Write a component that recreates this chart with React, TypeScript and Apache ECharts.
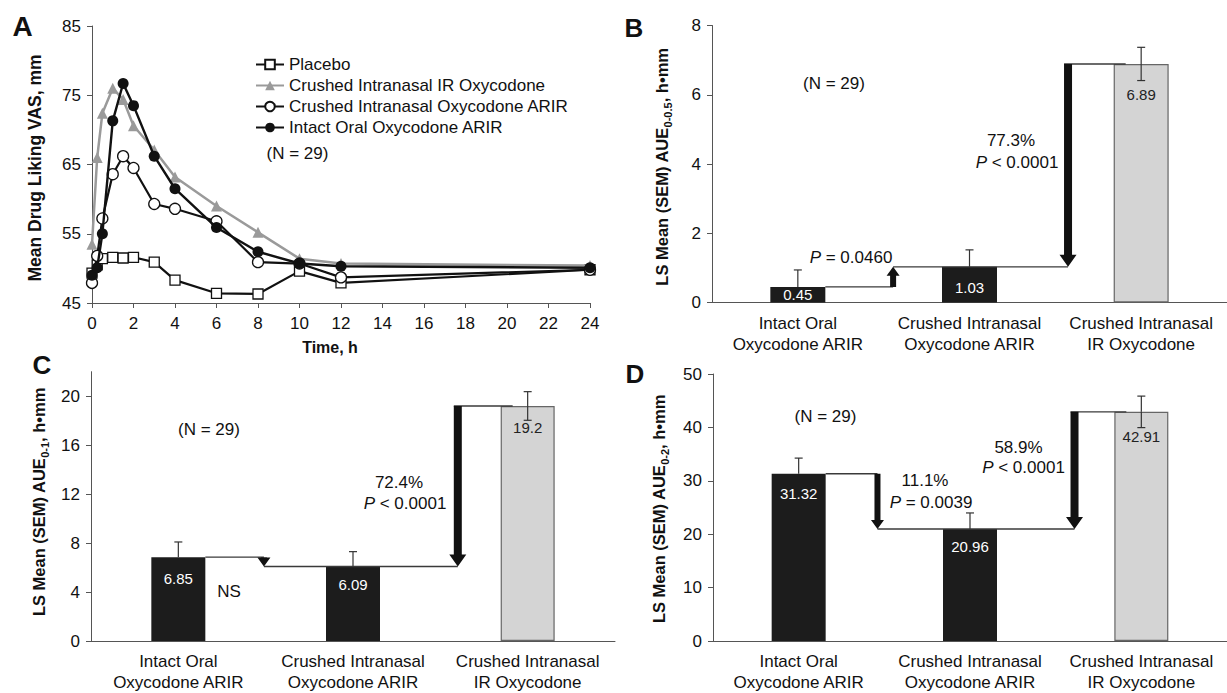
import React, { useEffect, useRef } from 'react';
import * as echarts from 'echarts';

// ---------- data ----------
const times = [0, 0.25, 0.5, 1, 1.5, 2, 3, 4, 6, 8, 10, 12, 24];
const placebo = [49.3, 50.5, 51.4, 51.6, 51.5, 51.6, 50.9, 48.3, 46.4, 46.3, 49.6, 47.9, 49.8];
const irOxycodone = [53.5, 66.0, 72.4, 76.0, 74.4, 70.6, 67.1, 63.2, 59.0, 55.2, 51.4, 50.7, 50.4];
const arirCrushed = [47.9, 51.8, 57.2, 63.6, 66.2, 64.5, 59.3, 58.6, 56.8, 50.9, 50.7, 48.7, 49.8];
const arirIntact = [49.0, 50.1, 55.0, 71.3, 76.7, 73.5, 66.2, 61.5, 55.9, 52.4, 50.7, 50.3, 50.1];

const lineNames = [
  'Placebo',
  'Crushed Intranasal IR Oxycodone',
  'Crushed Intranasal Oxycodone ARIR',
  'Intact Oral Oxycodone ARIR',
];

const categories = [
  'Intact Oral\nOxycodone ARIR',
  'Crushed Intranasal\nOxycodone ARIR',
  'Crushed Intranasal\nIR Oxycodone',
];
const aue05 = [0.45, 1.03, 6.89];
const aue05Sem = [0.49, 0.49, 0.48];
const aue1 = [6.85, 6.09, 19.2];
const aue1Sem = [1.24, 1.21, 1.17];
const aue2 = [31.32, 20.96, 42.91];
const aue2Sem = [2.93, 3.02, 2.95];

// ---------- styles ----------
const FONT = '"Liberation Sans", Arial, Helvetica, sans-serif';
const INK = '#111';
const AXIS = '#555';
const BAR_DARK = '#1c1c1c';
const BAR_LIGHT = '#d4d4d4';
const barColors = [BAR_DARK, BAR_DARK, BAR_LIGHT];

function arrow(x: number, yStart: number, yEnd: number, sw: number, hw: number, hl: number) {
  const dir = yEnd > yStart ? 1 : -1;
  const len = Math.abs(yEnd - yStart);
  const h = Math.min(hl, len);
  const base = yEnd - dir * h;
  return {
    type: 'polygon',
    shape: {
      points: [
        [x - sw / 2, yStart], [x + sw / 2, yStart], [x + sw / 2, base], [x + hw / 2, base],
        [x, yEnd], [x - hw / 2, base], [x - sw / 2, base],
      ],
    },
    style: { fill: INK },
  };
}

function connectorSeries(idx: number, vals: number[], off1: number, off2: number, bw: number) {
  return {
    type: 'custom',
    xAxisIndex: idx,
    yAxisIndex: idx,
    z: 4,
    silent: true,
    encode: { x: 0, y: 1 },
    data: [[0, vals[0]]],
    renderItem: (params: any, api: any) => {
      const p0 = api.coord([0, vals[0]]);
      const p1 = api.coord([1, vals[1]]);
      const p2 = api.coord([2, vals[2]]);
      const band = p1[0] - p0[0];
      const ax1 = p0[0] + off1 * band;
      const ax2 = p1[0] + off2 * band;
      const st = { stroke: '#3a3a3a', lineWidth: 1.4 };
      return {
        type: 'group',
        children: [
          { type: 'line', shape: { x1: p0[0] + bw / 2, y1: p0[1], x2: ax1, y2: p0[1] }, style: st },
          { type: 'line', shape: { x1: ax1, y1: p1[1], x2: ax2, y2: p1[1] }, style: st },
          { type: 'line', shape: { x1: ax2 - 4, y1: p2[1], x2: p2[0] - bw / 2 + 12, y2: p2[1] }, style: st },
          arrow(ax1, p0[1], p1[1], 6, 13, 9),
          arrow(ax2, p2[1], p1[1], 8, 17, 12),
        ],
      };
    },
  };
}

function errorSeries(idx: number, vals: number[], sems: number[]) {
  return {
    type: 'custom',
    xAxisIndex: idx,
    yAxisIndex: idx,
    z: 5,
    silent: true,
    encode: { x: 0, y: 1 },
    data: vals.map((v, i) => [i, v, sems[i], barColors[i] === BAR_LIGHT ? 1 : 0]),
    renderItem: (params: any, api: any) => {
      const i = api.value(0);
      const v = api.value(1);
      const s = api.value(2);
      const low = api.value(3);
      const top = api.coord([i, v + s]);
      const mid = api.coord([i, v]);
      const bot = api.coord([i, v - s]);
      const x = mid[0];
      const c = 4;
      const st = { stroke: '#333', lineWidth: 1.2 };
      const children: any[] = [
        { type: 'line', shape: { x1: x, y1: top[1], x2: x, y2: mid[1] }, style: st },
        { type: 'line', shape: { x1: x - c, y1: top[1], x2: x + c, y2: top[1] }, style: st },
      ];
      if (low) {
        children.push({ type: 'line', shape: { x1: x, y1: mid[1], x2: x, y2: bot[1] }, style: st });
        children.push({ type: 'line', shape: { x1: x - c, y1: bot[1], x2: x + c, y2: bot[1] }, style: st });
      }
      return { type: 'group', children };
    },
  };
}

function barSeries(idx: number, vals: number[], bw: number, dists: number[]) {
  return {
    type: 'bar',
    xAxisIndex: idx,
    yAxisIndex: idx,
    barWidth: bw,
    z: 2,
    silent: true,
    data: vals.map((v, i) => {
      const light = barColors[i] === BAR_LIGHT;
      return {
        value: v,
        itemStyle: {
          color: barColors[i],
          borderColor: light ? '#666' : barColors[i],
          borderWidth: light ? 1.2 : 0,
        },
        label: {
          show: true,
          position: 'insideTop',
          distance: dists[i],
          color: light ? '#222' : '#fff',
          fontSize: 15,
          fontFamily: FONT,
        },
      };
    }),
  };
}

function valueAxisY(idx: number, min: number, max: number, interval: number, custom?: number[]) {
  const ax: any = {
    type: 'value',
    gridIndex: idx,
    min,
    max,
    interval,
    axisLine: { show: true, lineStyle: { color: AXIS, width: 1 } },
    axisTick: { show: true, inside: false, length: 5, lineStyle: { color: AXIS } },
    axisLabel: { fontSize: 17, fontFamily: FONT, color: INK, margin: 11 },
    splitLine: { show: false },
  };
  if (custom) {
    ax.axisTick.customValues = custom;
    ax.axisLabel.customValues = custom;
  }
  return ax;
}

function catAxisX(idx: number) {
  return {
    type: 'category',
    gridIndex: idx,
    data: categories,
    axisLine: { show: true, lineStyle: { color: AXIS, width: 1 } },
    axisTick: { show: false },
    axisLabel: { fontSize: 17, fontFamily: FONT, color: INK, margin: 10, lineHeight: 21, interval: 0 },
    splitLine: { show: false },
  };
}

const richBase = {
  i: { fontStyle: 'italic', fontSize: 17, fontFamily: FONT, fill: INK },
};

function txt(x: number, y: number, text: string, extra: any = {}, rotation = 0) {
  return {
    type: 'text',
    x,
    y,
    rotation,
    silent: true,
    z: 10,
    style: {
      text,
      fontSize: 17,
      fontFamily: FONT,
      fill: INK,
      align: 'center',
      verticalAlign: 'middle',
      rich: richBase,
      ...extra,
    },
  };
}

function yTitle(x: number, y: number, sub: string) {
  const text = `{t|LS Mean (SEM) AUE}{s|${sub}}{t|, h•mm}`;
  return txt(
    x,
    y,
    text,
    {
      rich: {
        t: { fontSize: 16.5, fontWeight: 'bold', fontFamily: FONT, fill: INK, lineHeight: 22, verticalAlign: 'middle' },
        s: { fontSize: 11, fontWeight: 'bold', fontFamily: FONT, fill: INK, lineHeight: 10, verticalAlign: 'bottom' },
      },
    },
    Math.PI / 2,
  );
}

const bold = (size: number) => ({ fontWeight: 'bold', fontSize: size });

function buildOption() {
  const lineBase = (name: string, data: number[], extra: any) => ({
    type: 'line',
    name,
    xAxisIndex: 0,
    yAxisIndex: 0,
    data: times.map((t, i) => [t, data[i]]),
    showSymbol: true,
    silent: true,
    ...extra,
  });

  return {
    animation: false,
    textStyle: { fontFamily: FONT },
    grid: [
      { left: 92, top: 26, width: 498, height: 277 },
      { left: 712, top: 25.5, width: 525, height: 277 },
      { left: 91, top: 371.7, width: 524, height: 270 },
      { left: 713, top: 374, width: 516, height: 267.7 },
    ],
    xAxis: [
      {
        type: 'value',
        gridIndex: 0,
        min: 0,
        max: 24,
        interval: 2,
        axisLine: { show: true, lineStyle: { color: AXIS, width: 1 } },
        axisTick: { show: true, inside: false, length: 5, lineStyle: { color: AXIS } },
        axisLabel: { fontSize: 17, fontFamily: FONT, color: INK, margin: 12 },
        splitLine: { show: false },
      },
      catAxisX(1),
      catAxisX(2),
      catAxisX(3),
    ],
    yAxis: [
      valueAxisY(0, 45, 85, 10),
      valueAxisY(1, 0, 8, 2),
      valueAxisY(2, 0, 22, 4, [0, 4, 8, 12, 16, 20]),
      valueAxisY(3, 0, 50, 10),
    ],
    legend: {
      orient: 'vertical',
      left: 255,
      top: 56,
      padding: 0,
      itemWidth: 28,
      itemHeight: 12,
      itemGap: 4,
      selectedMode: false,
      data: lineNames,
      textStyle: { fontSize: 17, fontFamily: FONT, color: INK, lineHeight: 17 },
    },
    series: [
      lineBase(lineNames[0], placebo, {
        symbol: 'rect',
        symbolSize: 10,
        z: 3,
        itemStyle: { color: '#fff', borderColor: INK, borderWidth: 1.3 },
        lineStyle: { color: INK, width: 2.2 },
      }),
      lineBase(lineNames[1], irOxycodone, {
        symbol: 'triangle',
        symbolSize: 11,
        z: 4,
        itemStyle: { color: '#9a9a9a' },
        lineStyle: { color: '#9a9a9a', width: 2.5 },
      }),
      lineBase(lineNames[2], arirCrushed, {
        symbol: 'circle',
        symbolSize: 11,
        z: 5,
        itemStyle: { color: '#fff', borderColor: INK, borderWidth: 1.3 },
        lineStyle: { color: INK, width: 2.2 },
      }),
      lineBase(lineNames[3], arirIntact, {
        symbol: 'circle',
        symbolSize: 11,
        z: 6,
        itemStyle: { color: INK },
        lineStyle: { color: INK, width: 2.4 },
      }),
      barSeries(1, aue05, 55, [0, 13.5, 23]),
      barSeries(2, aue1, 54, [14, 11, 14]),
      barSeries(3, aue2, 54, [12, 10, 17]),
      errorSeries(1, aue05, aue05Sem),
      errorSeries(2, aue1, aue1Sem),
      errorSeries(3, aue2, aue2Sem),
      connectorSeries(1, aue05, 0.555, 0.574, 55),
      connectorSeries(2, aue1, 0.49, 0.6, 54),
      connectorSeries(3, aue2, 0.46, 0.61, 54),
    ],
    graphic: [
      // Panel A
      txt(22.5, 26, 'A', bold(28)),
      txt(297.5, 153, '(N = 29)'),
      txt(330, 347, 'Time, h', bold(16)),
      txt(35, 168, 'Mean Drug Liking VAS, mm', bold(17.5), Math.PI / 2),
      // Panel B
      txt(634, 27.5, 'B', bold(26)),
      txt(834, 83, '(N = 29)'),
      txt(1011, 140, '77.3%'),
      txt(1017, 162, '{i|P} < 0.0001'),
      txt(851, 257, '{i|P} = 0.0460'),
      yTitle(662, 167, '0-0.5'),
      // Panel C
      txt(42, 365, 'C', bold(26)),
      txt(209, 429, '(N = 29)'),
      txt(399, 482, '72.4%'),
      txt(405, 503, '{i|P} < 0.0001'),
      txt(229, 591, 'NS'),
      yTitle(39, 502, '0-1'),
      // Panel D
      txt(635, 374, 'D', bold(26)),
      txt(825.5, 416, '(N = 29)'),
      txt(1018.5, 447, '58.9%'),
      txt(1023.5, 467, '{i|P} < 0.0001'),
      txt(925, 480, '11.1%'),
      txt(931, 502, '{i|P} = 0.0039'),
      yTitle(659, 509, '0-2'),
    ],
  };
}

export default function App() {
  const ref = useRef<HTMLDivElement>(null);
  useEffect(() => {
    if (!ref.current) return;
    const chart = echarts.init(ref.current, null, { renderer: 'svg' });
    chart.setOption(buildOption() as any);
    return () => chart.dispose();
  }, []);
  return (
    <div
      ref={ref}
      style={{ position: 'absolute', left: 0, top: 0, width: 1227, height: 693, background: '#fff' }}
    />
  );
}
